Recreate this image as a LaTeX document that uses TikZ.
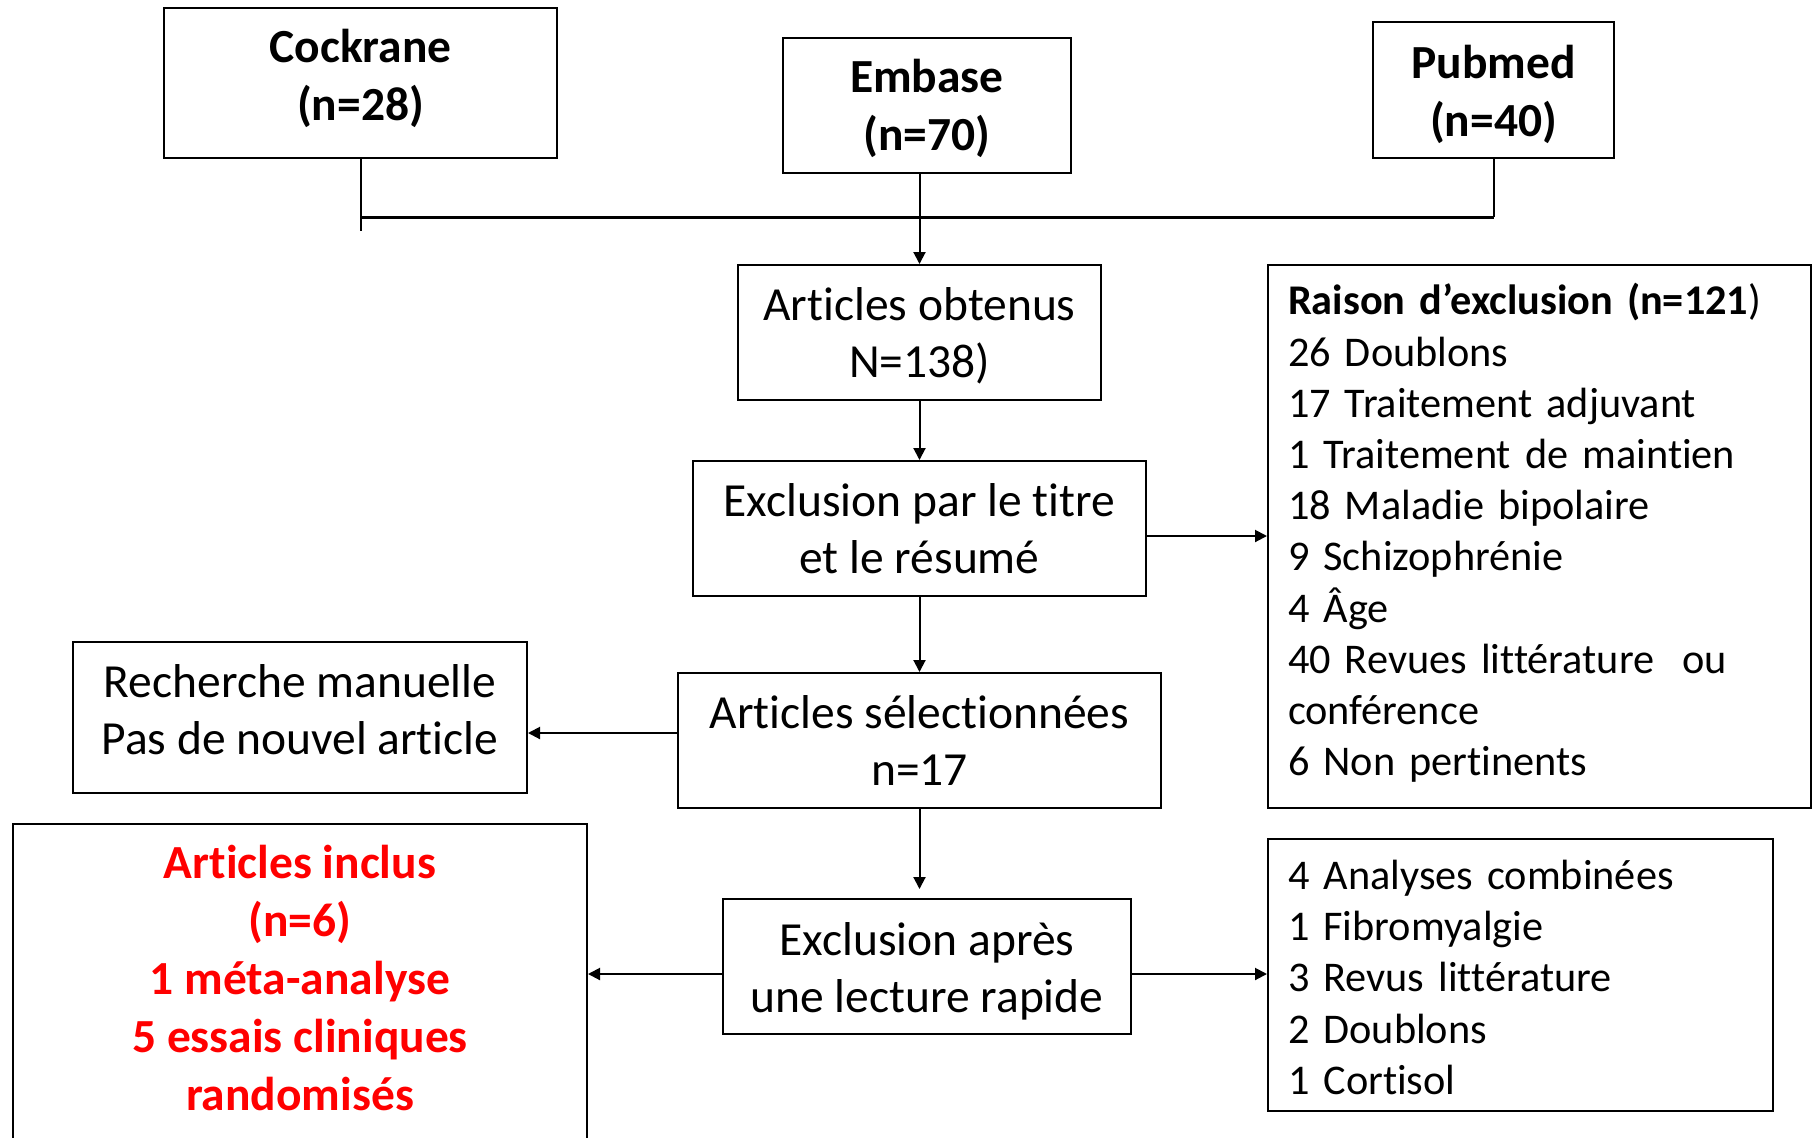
\documentclass[tikz,border=0pt]{standalone}
\usepackage{fontspec}
\setmainfont{Carlito}[Ligatures=NoCommon]
\usetikzlibrary{arrows.meta,calc}
\definecolor{incred}{RGB}{255,0,0}
\begin{document}
\begin{tikzpicture}[x=0.5pt,y=-0.5pt,
  box/.style={draw, line width=1pt, inner sep=0pt},
  txt/.style={align=center, inner sep=0pt, font=\fontsize{23.75}{28.75}\selectfont},
  dbtxt/.style={txt, font=\fontsize{23.75}{29}\selectfont\bfseries},
  listtxt/.style={align=left, inner sep=0pt, font=\fontsize{21.15}{25.6}\selectfont},
  arr/.style={line width=1pt, -{Triangle[length=6pt,width=6pt]}},
  ln/.style={line width=1pt}]
\clip (0,0) rectangle (1812,1137);
\fill[white] (0,0) rectangle (1812,1137);

% database boxes
\node[box, minimum width=196.5pt, minimum height=75pt,
  label={[dbtxt, yshift=2.3pt]center:{Cockrane\\(n=28)}}] (cock) at (360.5,83) {};
\node[box, minimum width=144pt, minimum height=67.5pt,
  label={[dbtxt, yshift=-1.7pt]center:{Embase\\(n=70)}}] (emb) at (927,105.5) {};
\node[box, minimum width=120.5pt, minimum height=68pt,
  label={[dbtxt, yshift=-2pt]center:{Pubmed\\(n=40)}}] (pub) at (1493.5,90) {};

% main flow
\node[box, minimum width=181.5pt, minimum height=67.5pt,
  label={[txt, yshift=-1.7pt]center:{Articles obtenus\\N=138)}}] (obt) at (919.5,332.5) {};
\node[box, minimum width=226.5pt, minimum height=67.5pt,
  label={[txt]center:{Exclusion par le titre\\et le résumé}}] (excl) at (919.5,528.5) {};
\node[box, minimum width=241.5pt, minimum height=67.5pt,
  label={[txt]center:{Articles sélectionnées\\n=17}}] (sel) at (919.5,740.5) {};
\node[box, minimum width=227pt, minimum height=75.5pt,
  label={[txt, yshift=4pt]center:{Recherche manuelle\\Pas de nouvel article}}] (rech) at (300,717.5) {};
\node[box, minimum width=204pt, minimum height=67.5pt,
  label={[txt, yshift=-2.3pt]center:{Exclusion après\\une lecture rapide}}] (apres) at (927,966.5) {};

% exclusion lists
\node[box, minimum width=271.5pt, minimum height=271.5pt,
  label={[listtxt, text width=251.5pt, yshift=1.7pt]center:{\textbf{Raison d’exclusion (n=121})\\26 Doublons\\17 Traitement adjuvant\\1 Traitement de maintien\\18 Maladie bipolaire\\9 Schizophrénie\\4 Âge\\40 Revues littérature \ ou\\conférence\\6 Non pertinents}}] (rais) at (1539.5,536.5) {};
\node[box, minimum width=252.5pt, minimum height=136pt,
  label={[listtxt, text width=232.5pt, yshift=-1.2pt]center:{4 Analyses combinées\\1 Fibromyalgie\\3 Revus littérature\\2 Doublons\\1 Cortisol}}] (excl2) at (1520.5,975) {};

% included articles
\node[box, minimum width=287pt, minimum height=188pt] (incl) at (300,1012) {};
\node[txt, text=incred, font=\fontsize{23.75}{28.9}\selectfont\bfseries] (incltxt) at (300,978)
  {Articles inclus\\(n=6)\\1 méta-analyse\\5 essais cliniques\\randomisés};

% connectors
\coordinate (hy) at (0,217);
\coordinate (cy) at (0,231);
\draw[ln] (cock.south) -- (cock.south |- cy);
\draw[line width=1.5pt] (cock.south |- hy) -- (pub.south |- hy);
\draw[ln] (pub.south |- hy) -- (pub.south);
\draw[arr] (obt.north |- emb.south) -- (obt.north);
\draw[arr] (obt.south) -- (excl.north);
\draw[arr] (excl.south) -- (sel.north);
\draw[arr] (sel.south) -- ($(sel.south |- apres.north)+(0,-9)$);
\draw[arr] ($(excl.east)+(0,7.5)$) -- ($(excl.east -| rais.west)+(0,7.5)$);
\draw[arr] ($(sel.west)+(0,-7.5)$) -- ($(sel.west -| rech.east)+(0,-7.5)$);
\draw[arr] ($(apres.west)+(0,7.5)$) -- ($(apres.west -| incl.east)+(0,7.5)$);
\draw[arr] ($(apres.east)+(0,7.5)$) -- ($(apres.east -| excl2.west)+(0,7.5)$);
\end{tikzpicture}
\end{document}
